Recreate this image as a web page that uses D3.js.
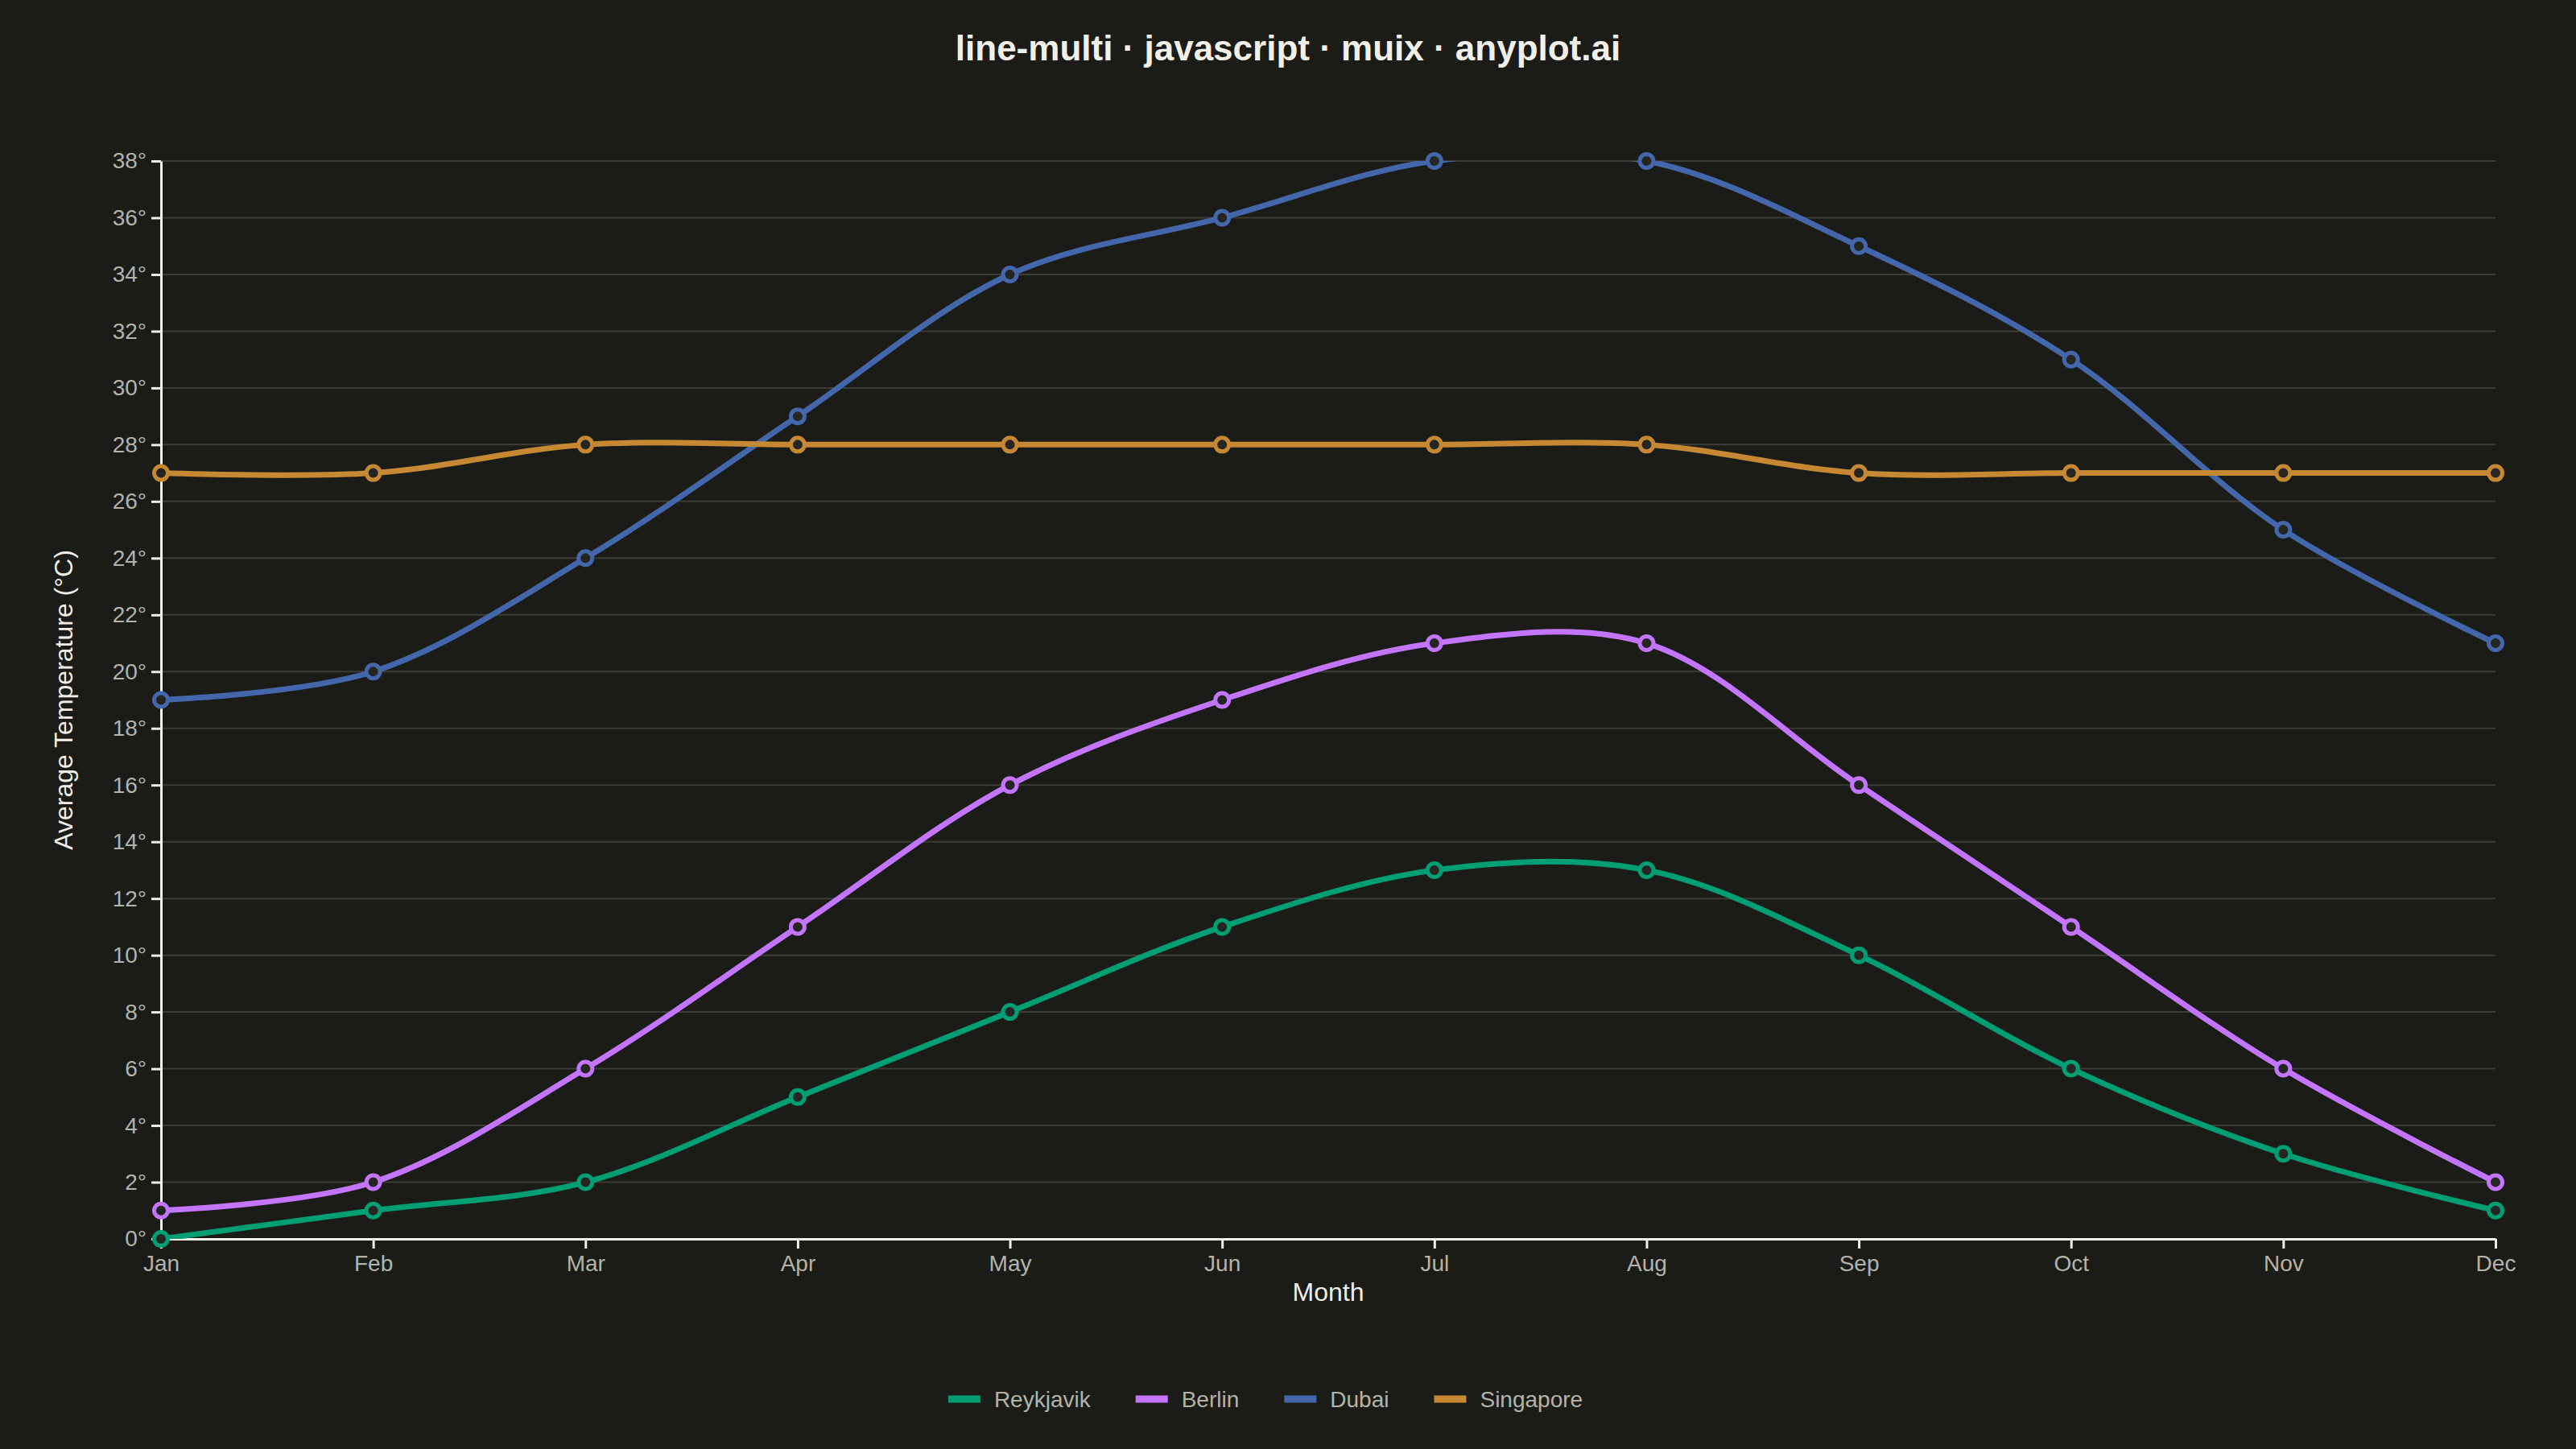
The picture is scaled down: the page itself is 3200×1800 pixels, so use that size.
<!DOCTYPE html>
<html>
<head>
<meta charset="utf-8">
<script src="https://cdn.jsdelivr.net/npm/d3@7"></script>
<style>
  html, body { margin: 0; padding: 0; background: #1b1b17; }
  svg { display: block; }
</style>
</head>
<body>
<div id="svgContainer"></div>
<script>
const months = ["Jan", "Feb", "Mar", "Apr", "May", "Jun", "Jul", "Aug", "Sep", "Oct", "Nov", "Dec"];
const cities = ["Reykjavik", "Berlin", "Dubai", "Singapore"];
const reykjavik = [0, 1, 2, 5, 8, 11, 13, 13, 10, 6, 3, 1];
const berlin = [1, 2, 6, 11, 16, 19, 21, 21, 16, 11, 6, 2];
const dubai = [19, 20, 24, 29, 34, 36, 38, 38, 35, 31, 25, 21];
const singapore = [27, 27, 28, 28, 28, 28, 28, 28, 27, 27, 27, 27];
const yTicks = d3.range(0, 39, 2);

const colors = ["#009E73", "#C475FD", "#4467AC", "#C68833"];
const series = [reykjavik, berlin, dubai, singapore].map((values, i) => ({
    name: cities[i],
    color: colors[i],
    values: values
}));

const width = 3200;
const height = 1800;
const margin = {top: 200, right: 100, bottom: 261, left: 200};
const font = "'Liberation Sans', Arial, sans-serif";
const bg = "#1b1b17";

const svg = d3.select("#svgContainer").append("svg")
    .attr("width", width)
    .attr("height", height)
    .style("background", bg)
    .attr("font-family", font);

const x = d3.scalePoint()
    .domain(months)
    .range([margin.left, width - margin.right]);

const y = d3.scaleLinear()
    .domain([0, 38])
    .range([height - margin.bottom, margin.top]);

// title
svg.append("text")
    .attr("x", width / 2)
    .attr("y", 75)
    .attr("text-anchor", "middle")
    .attr("font-size", 44)
    .attr("font-weight", 700)
    .attr("fill", "#f0efe8")
    .text("line-multi · javascript · muix · anyplot.ai");

// grid
svg.append("g")
    .selectAll("line")
    .data(yTicks)
    .join("line")
    .attr("x1", margin.left)
    .attr("x2", width - margin.right)
    .attr("y1", d => y(d))
    .attr("y2", d => y(d))
    .attr("stroke", "#3c3c37")
    .attr("stroke-width", 2);

// axes
const xAxis = svg.append("g")
    .attr("transform", `translate(0,${height - margin.bottom})`)
    .call(d3.axisBottom(x).tickSize(12).tickPadding(8).tickSizeOuter(0));

const yAxis = svg.append("g")
    .attr("transform", `translate(${margin.left},0)`)
    .call(d3.axisLeft(y).tickValues(yTicks).tickFormat(d => d + "°").tickSize(12).tickPadding(6).tickSizeOuter(0));

[xAxis, yAxis].forEach(g => {
    g.select(".domain").attr("stroke", "#f0efe8").attr("stroke-width", 3);
    g.selectAll(".tick line").attr("stroke", "#f0efe8").attr("stroke-width", 3);
    g.selectAll(".tick text")
        .attr("fill", "#b4b3ab")
        .attr("font-size", 28)
        .attr("font-family", font);
});

svg.append("text")
    .attr("x", (margin.left + width - margin.right) / 2)
    .attr("y", 1616)
    .attr("text-anchor", "middle")
    .attr("font-size", 32)
    .attr("fill", "#eeede6")
    .text("Month");

svg.append("text")
    .attr("transform", `translate(90,${(margin.top + height - margin.bottom) / 2}) rotate(-90)`)
    .attr("text-anchor", "middle")
    .attr("font-size", 32)
    .attr("fill", "#eeede6")
    .text("Average Temperature (°C)");

// clip to the drawing area
svg.append("clipPath")
    .attr("id", "plotClip")
    .append("rect")
    .attr("x", margin.left)
    .attr("y", margin.top)
    .attr("width", width - margin.left - margin.right)
    .attr("height", height - margin.top - margin.bottom);

const line = d3.line()
    .x((d, i) => x(months[i]))
    .y(d => y(d))
    .curve(d3.curveCatmullRom);

svg.append("g")
    .attr("clip-path", "url(#plotClip)")
    .selectAll("path")
    .data(series)
    .join("path")
    .attr("d", d => line(d.values))
    .attr("fill", "none")
    .attr("stroke", d => d.color)
    .attr("stroke-width", 7)
    .attr("stroke-linejoin", "round");

const markers = svg.append("g")
    .selectAll("g")
    .data(series)
    .join("g");

markers.selectAll("circle")
    .data(d => d.values.map((v, i) => ({v, i, color: d.color})))
    .join("circle")
    .attr("cx", d => x(months[d.i]))
    .attr("cy", d => y(d.v))
    .attr("r", 8.5)
    .attr("fill", "#252522")
    .attr("stroke", d => d.color)
    .attr("stroke-width", 5);

// legend
const legend = svg.append("g");
let offset = 0;
const items = [];
series.forEach(s => {
    const g = legend.append("g");
    g.append("rect")
        .attr("width", 40)
        .attr("height", 9)
        .attr("y", -4.5)
        .attr("fill", s.color);
    const t = g.append("text")
        .attr("x", 57)
        .attr("dy", "0.35em")
        .attr("font-size", 28)
        .attr("fill", "#b4b3ab")
        .text(s.name);
    items.push({g, offset});
    offset += 57 + t.node().getComputedTextLength() + 56;
});
const legendWidth = offset - 56;
const legendStart = 1572 - legendWidth / 2;
items.forEach(it => it.g.attr("transform", `translate(${legendStart + it.offset},1738)`));
</script>
</body>
</html>
